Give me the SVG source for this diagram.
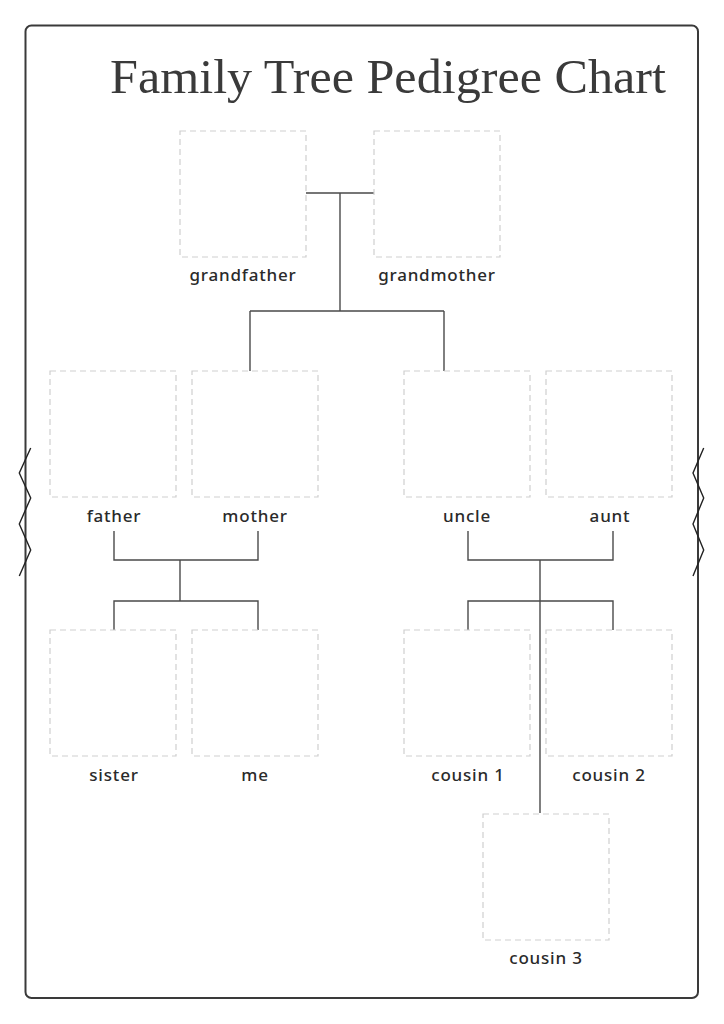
<svg xmlns="http://www.w3.org/2000/svg" width="724" height="1024" viewBox="0 0 724 1024">
<style>
.frame{fill:#fff;stroke:#3a3a3a;stroke-width:2}
.box{fill:none;stroke:#cfcfcf;stroke-width:1.2;stroke-dasharray:6 4}
.lbl{font-family:"Noto Sans","DejaVu Sans",sans-serif;font-size:17px;font-weight:500;letter-spacing:0.8px;fill:#2a2a2a;text-anchor:middle}
.title{font-family:"Liberation Serif","DejaVu Serif",serif;font-size:48px;fill:#3a3a3a}
.con{fill:none;stroke:#4a4a4a;stroke-width:1.4}
.zig{fill:none;stroke:#222;stroke-width:1.4}
</style>
<rect width="724" height="1024" fill="#fff"/>
<rect class="frame" x="25.5" y="25.5" width="672.5" height="972.5" rx="6"/>
<text class="title" x="110" y="93" textLength="556" lengthAdjust="spacingAndGlyphs">Family Tree Pedigree Chart</text>
<polyline class="zig" points="30.7,448 19.3,473 30.7,498 19.3,524 30.7,550 19.3,576"/>
<polyline class="zig" points="703.7,448 693,473 703.7,498 693,524 703.7,550 693,576"/>
<g id="connectors">
<path class="con" d="M306,193H374M340,193V311M250,311H444M250,311V371M444,311V371"/>
<path class="con" d="M114,531V560H258V531M180,560V601M114,630V601H258V630"/>
<path class="con" d="M468,531V560H613V531M540,560V813M468,630V601H613V630"/>
</g>
<g id="grandfather"><rect class="box" x="180" y="131" width="126" height="126"/><text class="lbl" x="243" y="281">grandfather</text></g>
<g id="grandmother"><rect class="box" x="374" y="131" width="126" height="126"/><text class="lbl" x="437" y="281">grandmother</text></g>
<g id="father"><rect class="box" x="50" y="371" width="126" height="126"/><text class="lbl" x="114" y="522">father</text></g>
<g id="mother"><rect class="box" x="192" y="371" width="126" height="126"/><text class="lbl" x="255" y="522">mother</text></g>
<g id="uncle"><rect class="box" x="404" y="371" width="126" height="126"/><text class="lbl" x="467" y="522">uncle</text></g>
<g id="aunt"><rect class="box" x="546" y="371" width="126" height="126"/><text class="lbl" x="610" y="522">aunt</text></g>
<g id="sister"><rect class="box" x="50" y="630" width="126" height="126"/><text class="lbl" x="114" y="781">sister</text></g>
<g id="me"><rect class="box" x="192" y="630" width="126" height="126"/><text class="lbl" x="255" y="781">me</text></g>
<g id="cousin1"><rect class="box" x="404" y="630" width="126" height="126"/><text class="lbl" x="468" y="781">cousin 1</text></g>
<g id="cousin2"><rect class="box" x="546" y="630" width="126" height="126"/><text class="lbl" x="609" y="781">cousin 2</text></g>
<g id="cousin3"><rect class="box" x="483" y="814" width="126" height="126"/><text class="lbl" x="546" y="964">cousin 3</text></g>
</svg>
